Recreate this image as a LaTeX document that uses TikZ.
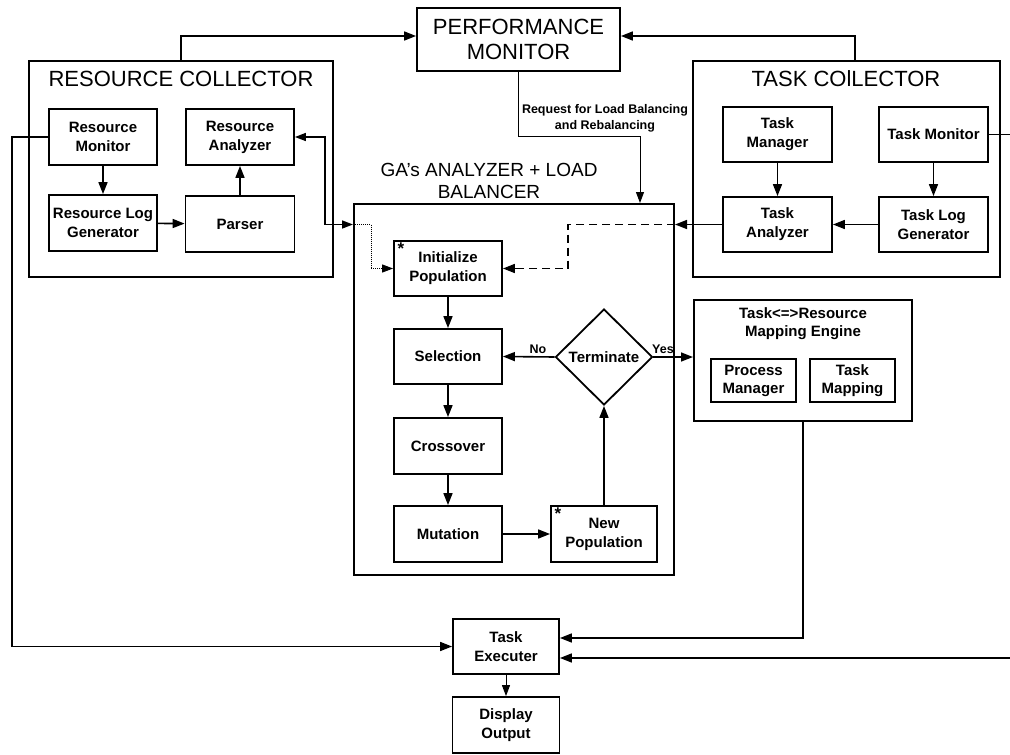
\documentclass[tikz,border=0pt]{standalone}
\usepackage{fontspec}
\setmainfont{Liberation Sans}
\usetikzlibrary{arrows.meta,shapes.geometric}

\tikzset{
  box/.style 2 args={draw, line width=1.8pt, align=center, inner sep=0pt,
    minimum width=#1pt, minimum height=#2pt,
    font=\fontsize{15}{19}\selectfont\bfseries},
  frame/.style 2 args={draw, line width=2pt, inner sep=0pt,
    minimum width=#1pt, minimum height=#2pt},
  bigtitle/.style={align=center, inner sep=0pt, font=\fontsize{22}{25}\selectfont},
  gatitle/.style={align=center, inner sep=0pt, font=\fontsize{19}{22}\selectfont},
  smalltext/.style={align=center, inner sep=0pt, font=\fontsize{12.5}{16}\selectfont\bfseries},
  flagtext/.style={inner sep=0pt, font=\fontsize{12.5}{15}\selectfont\bfseries},
  star/.style={inner sep=0pt, font=\fontsize{17}{17}\selectfont\bfseries},
  conn/.style={line width=1.6pt, -{Triangle[length=12pt,width=9pt]}},
  bothconn/.style={line width=1.5pt, {Triangle[length=11pt,width=8pt]}-{Triangle[length=11pt,width=8pt]}},
  thinconn/.style={line width=1pt, -{Triangle[length=11pt,width=8pt]}},
}

\begin{document}
\begin{tikzpicture}[x=1pt, y=-1pt]
\useasboundingbox (0,0) rectangle (1010,755);
\fill[white] (0,0) rectangle (1010,755);

% performance monitor
\node[box={203}{63}, font=\fontsize{22}{25}\selectfont] (pm) at (518.5,39.5) {PERFORMANCE\\MONITOR};

% resource collector
\node[frame={304}{216}] (rc) at (181,169) {};
\node[bigtitle] (rctitle) at (181,79) {RESOURCE COLLECTOR};
\node[box={108}{56}] (rmon) at (103,137) {Resource\\Monitor};
\node[box={108}{56}] (rana) at (240,137) {Resource\\Analyzer};
\node[box={108}{56}] (rlog) at (103,223) {Resource Log\\Generator};
\node[box={109}{56}] (parser) at (240,224) {Parser};

% task collector
\node[frame={307}{216}] (tc) at (846.5,169) {};
\node[bigtitle] (tctitle) at (846,79) {TASK COlLECTOR};
\node[box={109}{55}] (tman) at (777.5,134.5) {Task\\Manager};
\node[box={109}{55}] (tmon) at (933.5,134.5) {Task Monitor};
\node[box={109}{55}] (tana) at (777.5,224.5) {Task\\Analyzer};
\node[box={109}{55}] (tlog) at (933.5,224.5) {Task Log\\Generator};

% genetic algorithm analyzer and load balancer
\node[frame={320}{371}] (ga) at (514,389.5) {};
\node[gatitle] (gatitle) at (489,181) {GA's ANALYZER + LOAD\\BALANCER};
\node[box={108}{55}] (init) at (448,268.5) {Initialize\\Population};
\node[star] (initstar) at (401,249) {*};
\node[box={108}{55}] (sel) at (448,356.5) {Selection};
\node[box={108}{56}] (cross) at (448,446) {Crossover};
\node[box={108}{56}] (mut) at (448,534) {Mutation};
\node[box={106}{56}] (newpop) at (604,534) {New\\Population};
\node[star] (newstar) at (558,514) {*};
\node[draw, diamond, line width=1.8pt, inner sep=0pt, minimum width=97pt, minimum height=96pt,
      font=\fontsize{15}{19}\selectfont\bfseries] (term) at (604,357) {Terminate};

% mapping engine
\node[frame={218}{121}] (map) at (803,360.5) {};
\node[align=center, inner sep=0pt, font=\fontsize{15}{18}\selectfont\bfseries] (maptitle) at (803,324) {Task<=>Resource\\Mapping Engine};
\node[box={85}{43}, font=\fontsize{15}{18}\selectfont\bfseries] (pman) at (753.5,380.5) {Process\\Manager};
\node[box={85}{43}, font=\fontsize{15}{18}\selectfont\bfseries] (tmap) at (852.5,380.5) {Task\\Mapping};

% execution
\node[box={106}{55}] (texec) at (506,646.5) {Task\\Executer};
\node[box={107}{56}] (disp) at (506,725) {Display\\Output};

% feeds into the performance monitor
\draw[conn] (rc.north) |- ([yshift=3.5pt]pm.west);
\draw[conn] ([xshift=8.5pt]tc.north) |- ([yshift=3.5pt]pm.east);

% load balancing request
\draw[thinconn] (pm.south) -- ++(0,65) -| ([xshift=126pt]ga.north);
\node[smalltext] (req) at (605,118) {Request for Load Balancing\\and Rebalancing};

% resource collector internals
\draw[conn] (rmon) -- (rlog);
\draw[conn] (rlog) -- (parser);
\draw[conn] (parser) -- (rana);

% task collector internals
\draw[conn] (tman) -- (tana);
\draw[conn] (tmon) -- (tlog);
\draw[conn] (tlog) -- (tana);

% collectors into the GA box
\coordinate (gain) at (ga.west |- tana);
\coordinate (gaout) at (ga.east |- tana);
\draw[bothconn] (rana.east) -- (325,137) |- (gain);
\draw[conn] (tana.west) -- (gaout);
\draw[thinconn, densely dotted] (gain) -- (371,224.5) |- (init.west);
\draw[line width=1.6pt, dash pattern=on 8pt off 5pt] (gaout) -- (568,224.5) |- ([xshift=10pt]init.east);
\draw[conn] ([xshift=12pt]init.east) -- (init.east);

% genetic algorithm loop
\draw[conn] (init) -- (sel);
\draw[conn] (sel) -- (cross);
\draw[conn] (cross) -- (mut);
\draw[conn] (mut) -- (newpop);
\draw[conn] (newpop) -- (term);
\draw[conn] (term.west) -- (sel.east);
\draw[conn] (term.east) -- (term.east -| map.west);
\node[flagtext] (no) at (538,349) {No};
\node[flagtext, anchor=west] (yes) at (652,349) {Yes};

% into the task executer
\draw[conn] (rmon.west) -- (12,137) |- (texec.west);
\draw[conn] (map.south) |- ([yshift=8.5pt]texec.east);
\draw[conn] (tmon.east) -- (1016,134.5) |- ([yshift=-11.5pt]texec.east);
\draw[thinconn] (texec) -- (disp);
\end{tikzpicture}
\end{document}
